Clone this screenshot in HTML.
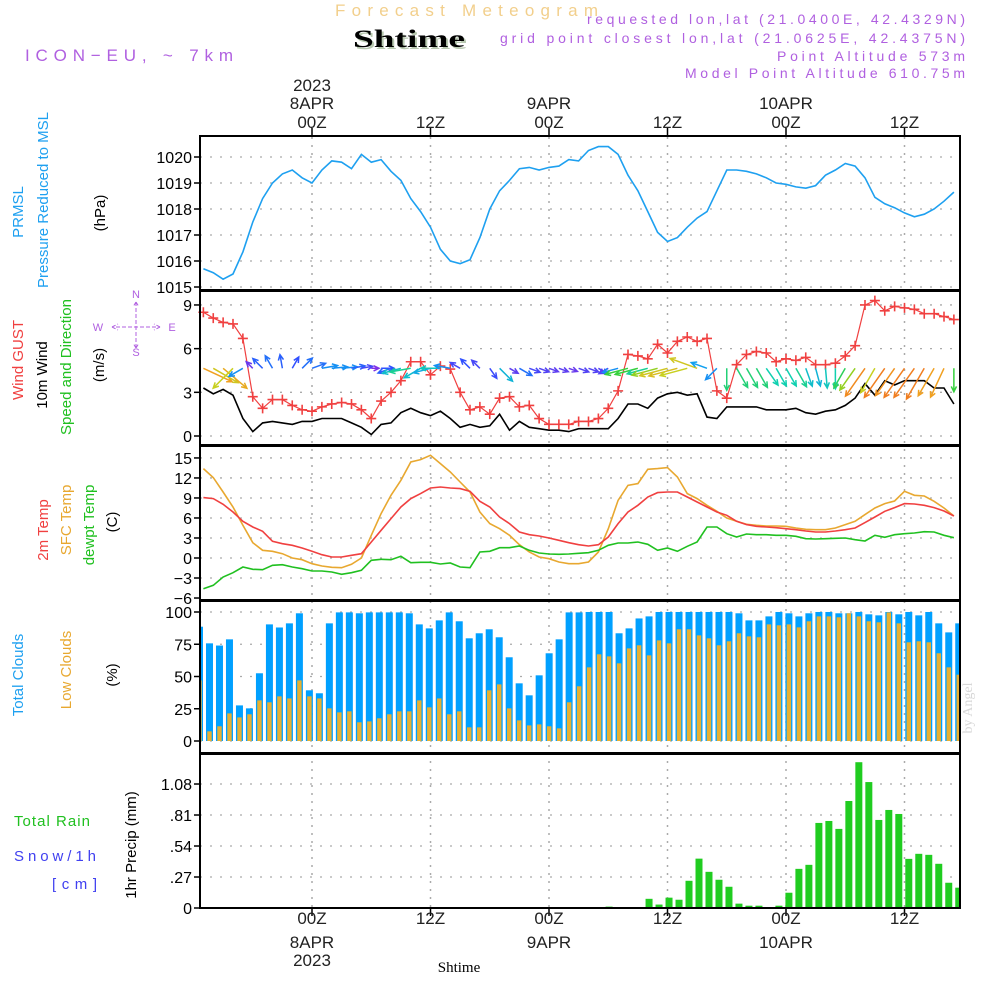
<!DOCTYPE html>
<html><head><meta charset="utf-8"><style>
html,body{margin:0;padding:0;background:#fff;}
svg{display:block;font-family:"Liberation Sans",sans-serif;}
</style></head><body>
<svg id="chart" width="1000" height="1000" viewBox="0 0 1000 1000">
<text x="335" y="16" fill="#f2cf8c" font-size="17" textLength="263" lengthAdjust="spacing">Forecast Meteogram</text>
<text x="355" y="49" fill="#b8c8b0" font-size="25" font-weight="bold" font-family="Liberation Serif, serif" textLength="112" lengthAdjust="spacingAndGlyphs">Shtime</text>
<text x="353" y="47" fill="#000" font-size="25" font-weight="bold" font-family="Liberation Serif, serif" textLength="112" lengthAdjust="spacingAndGlyphs">Shtime</text>
<text x="25" y="61" fill="#b060e0" font-size="17" textLength="208" lengthAdjust="spacing">ICON−EU, ~ 7km</text>
<text x="965" y="24" fill="#b060e0" font-size="14" text-anchor="end" textLength="378" lengthAdjust="spacing">requested lon,lat (21.0400E, 42.4329N)</text>
<text x="965" y="43" fill="#b060e0" font-size="14" text-anchor="end" textLength="465" lengthAdjust="spacing">grid point closest lon,lat (21.0625E, 42.4375N)</text>
<text x="965" y="61" fill="#b060e0" font-size="14" text-anchor="end" textLength="188" lengthAdjust="spacing">Point Altitude 573m</text>
<text x="965" y="78" fill="#b060e0" font-size="14" text-anchor="end" textLength="280" lengthAdjust="spacing">Model Point Altitude 610.75m</text>

<g id="left-labels" font-size="15">
<text transform="translate(23,212) rotate(-90)" text-anchor="middle" fill="#1ea0f0">PRMSL</text>
<text transform="translate(48,200) rotate(-90)" text-anchor="middle" fill="#1ea0f0">Pressure Reduced to MSL</text>
<text transform="translate(105,213) rotate(-90)" text-anchor="middle" fill="#000">(hPa)</text>
<text transform="translate(23,360) rotate(-90)" text-anchor="middle" fill="#f04040">Wind GUST</text>
<text transform="translate(47,375) rotate(-90)" text-anchor="middle" fill="#000">10m Wind</text>
<text transform="translate(71,367) rotate(-90)" text-anchor="middle" fill="#20c020">Speed and Direction</text>
<text transform="translate(104,365) rotate(-90)" text-anchor="middle" fill="#000">(m/s)</text>
<text transform="translate(48,530) rotate(-90)" text-anchor="middle" fill="#f04040">2m Temp</text>
<text transform="translate(71,520) rotate(-90)" text-anchor="middle" fill="#e8a830">SFC Temp</text>
<text transform="translate(94,525) rotate(-90)" text-anchor="middle" fill="#20c020">dewpt Temp</text>
<text transform="translate(117,522) rotate(-90)" text-anchor="middle" fill="#000">(C)</text>
<text transform="translate(23,675) rotate(-90)" text-anchor="middle" fill="#1ea0f0">Total Clouds</text>
<text transform="translate(71,670) rotate(-90)" text-anchor="middle" fill="#e8a830">Low Clouds</text>
<text transform="translate(117,675) rotate(-90)" text-anchor="middle" fill="#000">(%)</text>
<text x="14" y="826" fill="#20c020" textLength="76" lengthAdjust="spacing">Total  Rain</text>
<text x="14" y="861" fill="#4040f0" textLength="82" lengthAdjust="spacing">Snow/1h</text>
<text x="52" y="889" fill="#4040f0" textLength="45" lengthAdjust="spacing">[cm]</text>
<text transform="translate(136,845) rotate(-90)" text-anchor="middle" fill="#000">1hr Precip (mm)</text>
</g>
<g id="compass" fill="#b060e0" stroke="none" font-size="11">
<text x="136" y="298" text-anchor="middle">N</text>
<text x="136" y="356" text-anchor="middle">S</text>
<text x="98" y="331" text-anchor="middle">W</text>
<text x="172" y="331" text-anchor="middle">E</text>
<path d="M136 302v46M116 327h40M112 327l6-3M112 327l6 3M160 327l-6-3M160 327l-6 3M136 302l-3 5M136 302l3 5M136 348l-3-5M136 348l3-5" stroke="#b060e0" stroke-width="1" fill="none" stroke-dasharray="4,2"/>
</g>
<text transform="translate(972,708) rotate(-90)" text-anchor="middle" fill="#d8d8d8" font-size="14" font-family="Liberation Serif, serif">by Angel</text>
<text x="459" y="972" text-anchor="middle" fill="#000" font-size="15" font-family="Liberation Serif, serif">Shtime</text>
<g id="plots"></g>
</svg>
<script>
const hours = Array.from({length:77}, (_, i) => i - 11);
const pressure = [1015.7,1015.55,1015.3,1015.5,1016.35,1017.5,1018.4,1019.0,1019.35,1019.5,1019.2,
1019.0,1019.5,1019.85,1019.8,1019.55,1020.1,1019.8,1019.9,1019.45,1019.1,1018.4,1017.9,
1017.3,1016.45,1016.0,1015.9,1016.05,1016.9,1018.0,1018.7,1019.1,1019.55,1019.6,1019.5,
1019.6,1019.65,1019.9,1019.85,1020.25,1020.4,1020.4,1020.1,1019.3,1018.7,1017.9,1017.1,
1016.75,1016.9,1017.3,1017.65,1017.9,1018.7,1019.5,1019.5,1019.45,1019.35,1019.2,1019.0,
1018.95,1018.85,1018.8,1018.9,1019.3,1019.5,1019.75,1019.65,1019.2,1018.45,1018.2,1018.05,
1017.85,1017.7,1017.8,1018.0,1018.3,1018.65];
const gust = [8.5,8.1,7.8,7.7,6.7,2.7,1.9,2.5,2.5,2.1,1.8,
1.7,2.0,2.2,2.3,2.2,1.8,1.2,2.4,3.0,3.8,5.1,5.1,
4.2,4.8,4.6,3.0,1.8,2.0,1.5,2.6,2.7,2.0,2.1,1.2,
0.8,0.8,0.8,1.0,1.0,1.2,1.9,3.1,5.6,5.5,5.3,6.3,
5.7,6.5,6.8,6.5,6.7,3.1,2.6,4.9,5.6,5.8,5.7,5.1,
5.3,5.2,5.4,4.9,4.9,5.0,5.5,6.2,9.0,9.3,8.6,8.9,
8.8,8.7,8.4,8.4,8.2,8.0];
const windSpeed = [3.3,2.9,3.2,2.8,1.2,0.3,0.9,1.0,0.9,0.8,1.0,
1.0,1.2,1.2,1.2,0.9,0.6,0.1,0.8,0.9,1.6,1.9,1.6,
1.4,1.7,1.2,0.6,0.8,0.6,0.7,1.5,0.4,1.0,0.6,0.5,
0.4,0.4,0.3,0.5,0.5,0.5,0.5,1.2,2.2,2.2,1.9,2.6,
2.9,3.0,2.8,2.9,1.3,1.2,2.0,2.0,2.0,2.0,1.8,1.8,
1.8,1.9,1.6,1.5,1.7,1.8,2.1,2.6,3.6,2.8,3.8,3.5,
3.8,3.8,3.8,3.3,3.3,2.2];
const windDir = [-25,-30,-40,-135,-150,135,135,120,100,60,45,
20,10,5,5,10,10,0,0,200,195,190,-150,
195,180,170,150,135,135,-55,-45,-30,-30,-20,-20,
-20,-20,-20,-20,-20,-30,-150,195,195,195,195,195,
195,195,195,160,160,-135,-90,-60,-60,-60,-55,-60,
-60,-60,-70,-75,-85,-90,-120,-125,-125,-120,-125,-125,
-125,-125,-120,-120,-115,-90];
const temp2m = [9.05,8.9,8.05,6.9,5.5,4.65,4.0,2.5,2.15,1.9,1.5,1.0,0.5,0.15,0.15,0.4,0.65,2.4,4.15,5.9,7.65,8.9,9.65,10.5,10.65,10.5,10.4,10.0,8.5,7.65,6.15,5.15,3.9,3.5,3.3,3.0,2.65,2.3,2.0,
1.8,2.0,3.15,5.15,6.9,7.9,9.15,9.8,9.9,9.9,9.15,8.4,7.65,6.9,6.4,5.5,5.0,4.75,4.65,4.55,4.4,4.25,4.05,3.9,3.9,4.05,4.25,4.5,5.3,6.15,7.0,7.55,8.15,8.1,7.9,7.55,7.05,6.3];
const sfcTemp = [13.4,12.05,9.9,7.65,4.9,2.3,1.15,1.0,0.65,0,-0.25,-0.85,-1.2,-1.4,-1.45,-0.95,0,3.4,6.65,9.4,11.65,14.4,14.75,15.4,14.15,12.9,11.4,9.9,6.9,5.15,4.4,3.4,2.0,0.9,0.15,-0.1,-0.6,-0.85,-0.85,
-0.6,0.9,4.4,8.65,10.9,11.15,13.3,13.4,13.55,12.15,9.65,8.9,7.9,7.0,6.0,5.5,5.05,4.9,4.8,4.8,4.75,4.5,4.3,4.25,4.25,4.5,5.0,5.5,6.5,7.5,8.15,8.55,10.0,9.4,9.3,8.5,7.5,6.3];
const dewpoint = [-4.6,-4.1,-2.85,-2.2,-1.35,-1.7,-1.75,-1.1,-1.0,-1.35,-1.6,-1.95,-1.95,-2.1,-2.45,-2.2,-1.85,-0.35,-0.2,-0.25,0.25,-0.7,-0.65,-0.65,-0.9,-0.75,-1.35,-1.45,0.9,1.0,1.55,1.55,1.8,1.15,0.75,0.6,0.55,0.6,0.7,
0.8,1.15,1.9,2.25,2.25,2.4,2.05,1.15,1.5,1.0,1.75,2.4,4.65,4.65,3.65,3.15,3.6,3.5,3.5,3.4,3.4,3.25,2.9,2.85,2.9,2.95,3.0,2.75,2.55,3.4,3.1,3.5,3.65,3.75,3.95,3.9,3.4,3.05];
const totalClouds = [88.6,75.7,74,78.8,27.6,25.3,52.5,90.4,88,91.2,99,39.3,37,91.2,99.7,99.7,99,99.7,99.7,99.7,99.7,99,90.4,87.3,93.5,99.7,92.8,79.6,83.5,86.6,80.4,64.9,44.7,35.4,50.9,68,78.8,99.7,99.7,
100,100,100,83.5,87.3,95,96.6,100,100,100,100,100,100,100,100,99,93.5,93.5,96.6,100,99,96.6,99,100,100,99,99,100,98.2,97.4,100,98.2,100,97.4,100,91.2,84.2,91.2];
const lowClouds = [47,7.5,11.4,21.4,18.3,20.7,31.5,30,34.6,33,47,34.6,33,25.3,22.2,23,14.5,15.2,17.6,20.7,23,23,31.5,26.1,33,20.7,23,10.6,10.6,39.3,43.9,25.3,16,12.1,12.9,11.4,9.8,30,42.4,
57.1,67.2,65.6,60.2,71.8,74.2,66.4,78,75.7,86.6,86.6,81.9,79.6,74.2,77.3,83.5,81.1,80.4,90.4,89.7,90.4,88.1,92.8,96.6,96.6,95.9,99,96.6,92.8,92,99.7,91.2,76.5,77.3,76.5,68,57.1,51.4];
const precip = [0,0,0,0,0,0,0,0,0,0,0,0,0,0,0,0,0,0,0,0,0,0,0,0,0,0,0,0,0,0,0,0,0,0,0,0,0,0,0,0,0,
0.012,0,0,0,0.08,0.03,0.09,0.072,0.237,0.43,0.315,0.246,0.185,0.038,0.02,0.02,0,0.02,0.133,0.341,0.376,0.741,0.758,0.689,0.932,1.27,1.097,0.767,0.854,0.819,0.428,0.472,0.463,0.385,0.22,0.177];
const pressureTicks = [1015,1016,1017,1018,1019,1020];
const windTicks = [0,3,6,9];
const tempTicks = [-6,-3,0,3,6,9,12,15];
const cloudTicks = [0,25,50,75,100];
const precipTicks = [0,0.27,0.54,0.81,1.08];
const timeTicks = [0,12,24,36,48,60];
const timeHourLabels = ["00Z","12Z","00Z","12Z","00Z","12Z"];
const dayLabels = ["8APR","","9APR","","10APR",""];
const yearLabels = ["2023","","","","",""];

const NS = "http://www.w3.org/2000/svg";
const plots = document.getElementById("plots");
const L = 200, R = 960;
const xs = h => 312 + 9.875 * h;
const xb = h => 199.5 + 9.99 * (h + 11);
const yp = p => 157 + (1020 - p) * 26;
const yw = v => 436 - v * 14.56;
const yt = t => 558 - t * 6.67;
const yc = c => 741 - c * 1.29;
const yr = v => 908 - v * 114.8;
const panels = [[136,290,"pressure"],[291,445,"wind"],[446,600,"temperature"],[601,753,"clouds"],[754,908,"precip"]];

function mk(tag, attrs, parent) {
  const el = document.createElementNS(NS, tag);
  for (const k in attrs) el.setAttribute(k, attrs[k]);
  (parent || plots).appendChild(el);
  return el;
}
const defs = mk("defs", {});
panels.forEach((p, i) => {
  const cp = mk("clipPath", {id: "clip" + i}, defs);
  mk("rect", {x: L, y: p[0], width: R - L, height: p[1] - p[0]}, cp);
});
const grids = mk("g", {});


function hgrid(vals, f, pi, fmt) {
  const p = panels[pi];
  vals.forEach(v => {
    const y = f(v);
    if (y > p[0] + 2 && y < p[1] - 2) {
      const gl = mk("line", {x1: L, x2: R, y1: y, y2: y, stroke: "#aaa", "stroke-width": 1.3, "stroke-dasharray": "2,8"}, grids);
      
      
    }
    if (y >= p[0] - 1 && y <= p[1] + 8) {
      const tk = mk("line", {x1: L - 6, x2: L, y1: y, y2: y, stroke: "#000", "stroke-width": 1.5});
      
      
      const t = mk("text", {x: L - 8, y: y + 6, "text-anchor": "end", "font-size": 16, fill: "#000"});
      t.textContent = fmt ? fmt(v) : String(v);
      
      
    }
  });
}
hgrid(pressureTicks, yp, 0);
hgrid(windTicks, yw, 1);
hgrid(tempTicks, yt, 2, v => v < 0 ? "−" + (-v) : String(v));
hgrid(cloudTicks, yc, 3);
hgrid(precipTicks, yr, 4, v => v === 0 ? "0" : v.toFixed(2).replace(/^0/, ""));
timeTicks.forEach((h, i) => {
  const x = xs(h);
  const vl = mk("line", {x1: x, x2: x, y1: 137, y2: 907, stroke: "#aaa", "stroke-width": 1.5, "stroke-dasharray": "2,6"}, grids);
  
  
  [[128, 136], [908, 916]].forEach(s => {
    const tk = mk("line", {x1: x, x2: x, y1: s[0], y2: s[1], stroke: "#000", "stroke-width": 1.5});
    
    
  });
  const labs = [[timeHourLabels[i], 128, 924], [dayLabels[i], 109, 948], [yearLabels[i], 91, 966]];
  labs.forEach(l => {
    if (!l[0]) return;
    [l[1], l[2]].forEach(y => {
      const t = mk("text", {x: x, y: y, "text-anchor": "middle", "font-size": 17, fill: "#222"});
      t.textContent = l[0];
      
      
    });
  });
});

function line(vals, f, color, pi, name, w) {
  const d = vals.map((v, i) => (i ? "L" : "M") + xs(hours[i]).toFixed(1) + " " + f(v).toFixed(1)).join("");
  const p = mk("path", {d: d, fill: "none", stroke: color, "stroke-width": w || 1.6, "clip-path": "url(#clip" + pi + ")"});
  
  
  return p;
}
line(pressure, yp, "#1ea0f0", 0, "pressure-line");
line(windSpeed, yw, "#000", 1, "wind-speed-line");
line(gust, yw, "#f04040", 1, "wind-gust-line", 1.2);
gust.forEach((v, i) => {
  const x = xs(hours[i]), y = yw(v);
  const m = mk("path", {d: `M${x-5} ${y}h10M${x} ${y-5}v10`, stroke: "#f04040", "stroke-width": 1.6});
  
  
});
const cstops = [[0,[138,43,226]],[0.8,[48,80,255]],[1.3,[16,160,240]],[1.8,[16,208,176]],[2.3,[64,208,32]],[2.8,[200,208,32]],[3.3,[240,160,32]],[4,[240,112,32]]];
function wcol(s) {
  for (let i = 1; i < cstops.length; i++) {
    if (s <= cstops[i][0]) {
      const a = cstops[i-1], b = cstops[i], t = (s - a[0]) / (b[0] - a[0]);
      return "rgb(" + a[1].map((c, k) => Math.round(c + (b[1][k] - c) * t)).join(",") + ")";
    }
  }
  return "rgb(240,112,32)";
}
windDir.forEach((a, i) => {
  const x0 = xs(hours[i]), y0 = yw(4.65);
  const len = 7 + 7.5 * windSpeed[i];
  const r = a * Math.PI / 180;
  const x1 = x0 + len * Math.cos(r), y1 = y0 - len * Math.sin(r);
  const h1 = r + Math.PI - 0.45, h2 = r + Math.PI + 0.45;
  const d = `M${x0} ${y0}L${x1} ${y1}M${x1 + 6*Math.cos(h1)} ${y1 - 6*Math.sin(h1)}L${x1} ${y1}L${x1 + 6*Math.cos(h2)} ${y1 - 6*Math.sin(h2)}`;
  const ar = mk("path", {d: d, fill: "none", stroke: wcol(windSpeed[i]), "stroke-width": 1.5, "clip-path": "url(#clip1)"});
  
  
});
line(sfcTemp, yt, "#e8a830", 2, "sfc-temp-line");
line(temp2m, yt, "#f04040", 2, "temp-2m-line");
line(dewpoint, yt, "#20c020", 2, "dewpoint-line");
totalClouds.forEach((v, i) => {
  const x = xb(hours[i]);
  const b = mk("rect", {x: x - 3.5, y: yc(v), width: 7, height: yc(0) - yc(v), fill: "#00a0ff", "clip-path": "url(#clip3)"});
  
  
});
lowClouds.forEach((v, i) => {
  const x = xb(hours[i]);
  const b = mk("rect", {x: x - 2.2, y: yc(v), width: 4.4, height: yc(0) - yc(v), fill: "#e8b030", "clip-path": "url(#clip3)"});
  
  
});
precip.forEach((v, i) => {
  if (v <= 0) return;
  const x = xb(hours[i]);
  const b = mk("rect", {x: x - 3.5, y: yr(v), width: 7, height: yr(0) - yr(v), fill: "#20cc20", "clip-path": "url(#clip4)"});
  
  
});
const base = mk("line", {x1: L, x2: R, y1: 907.5, y2: 907.5, stroke: "#333", "stroke-width": 1, "stroke-dasharray": "3,3"});


panels.forEach(p => {
  const fr = mk("rect", {x: L, y: p[0], width: R - L, height: p[1] - p[0], fill: "none", stroke: "#000", "stroke-width": 2});
  
  
});
</script>
</body></html>
